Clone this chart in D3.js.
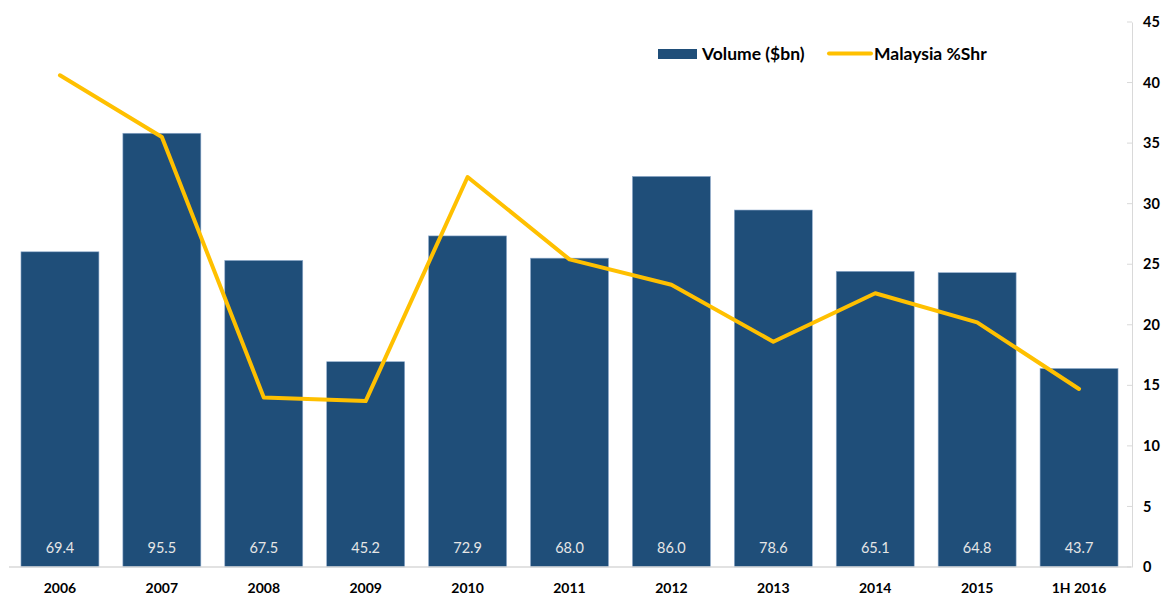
<!DOCTYPE html>
<html><head><meta charset="utf-8">
<script src="https://cdn.jsdelivr.net/npm/d3@7/dist/d3.min.js"></script>
<style>body{margin:0;background:#fff;} svg{display:block;}</style>
</head><body>
<svg id="c" width="1165" height="595"></svg>
<script>
const categories = ["2006","2007","2008","2009","2010","2011","2012","2013","2014","2015","1H 2016"];
const volume = [69.4,95.5,67.5,45.2,72.9,68.0,86.0,78.6,65.1,64.8,43.7];
const share = [40.6,35.5,14.0,13.7,32.2,25.4,23.3,18.6,22.6,20.2,14.7];
const rightTicks = [0,5,10,15,20,25,30,35,40,45];

const svg = d3.select("#c");
const font = "Lato, 'Open Sans', sans-serif";
const x = d3.scaleBand().domain(categories).range([9,1130]).paddingInner(0.235).paddingOuter(0.1175);
const yL = d3.scaleLinear().domain([0,120]).range([567,22]);
const yR = d3.scaleLinear().domain([0,45]).range([567,22]);

// bars
svg.append("g").selectAll("rect").data(categories).join("rect")
  .attr("x", d=>x(d)).attr("width", x.bandwidth())
  .attr("y", (d,i)=>yL(volume[i])).attr("height",(d,i)=>yL(0)-yL(volume[i]))
  .attr("fill","#1F4E79").attr("stroke","#8eaacb").attr("stroke-width",0.6);

// baseline
svg.append("line").attr("x1",9).attr("x2",1131).attr("y1",yL(0)).attr("y2",yL(0))
  .attr("stroke","#d9d9d9").attr("stroke-width",1.5);

// value labels
svg.append("g").selectAll("text").data(categories).join("text")
  .attr("x", d=>x(d)+x.bandwidth()/2).attr("y",553)
  .attr("text-anchor","middle").attr("fill","#e6e6e6")
  .attr("font-family",font).attr("font-size",14.5)
  .text((d,i)=>volume[i].toFixed(1));

// x axis labels
svg.append("g").selectAll("text").data(categories).join("text")
  .attr("x", d=>x(d)+x.bandwidth()/2).attr("y",593)
  .attr("text-anchor","middle").attr("fill","#000")
  .attr("font-family",font).attr("font-weight","bold").attr("font-size",14)
  .text(d=>d);

// right axis
const ax = svg.append("g").attr("transform","translate(1132,0)")
  .call(d3.axisRight(yR).tickValues(rightTicks).tickSize(0).tickPadding(11).tickFormat(d3.format("d")));
ax.select(".domain").attr("stroke","#d9d9d9");
ax.selectAll("text").attr("font-family",font).attr("font-weight","bold").attr("font-size",14.5).attr("fill","#000");
svg.append("g").selectAll("line").data(rightTicks).join("line")
  .attr("x1",1127).attr("x2",1132).attr("y1",d=>yR(d)).attr("y2",d=>yR(d))
  .attr("stroke","#d9d9d9");

// line
const line = d3.line().x((d,i)=>x(categories[i])+x.bandwidth()/2).y(d=>yR(d));
svg.append("path").datum(share).attr("d",line).attr("fill","none")
  .attr("stroke","#FFC000").attr("stroke-width",4).attr("stroke-linejoin","round").attr("stroke-linecap","round");

// legend
const lg = svg.append("g");
lg.append("rect").attr("x",658).attr("y",49).attr("width",39).attr("height",10).attr("fill","#1F4E79");
lg.append("text").attr("x",702).attr("y",60).attr("font-family",font).attr("font-weight","bold").attr("font-size",17.5).text("Volume ($bn)");
lg.append("line").attr("x1",829).attr("x2",871).attr("y1",53.5).attr("y2",53.5).attr("stroke","#FFC000").attr("stroke-width",4).attr("stroke-linecap","round");
lg.append("text").attr("x",874).attr("y",60).attr("font-family",font).attr("font-weight","bold").attr("font-size",17.5).text("Malaysia %Shr");
</script>
</body></html>
